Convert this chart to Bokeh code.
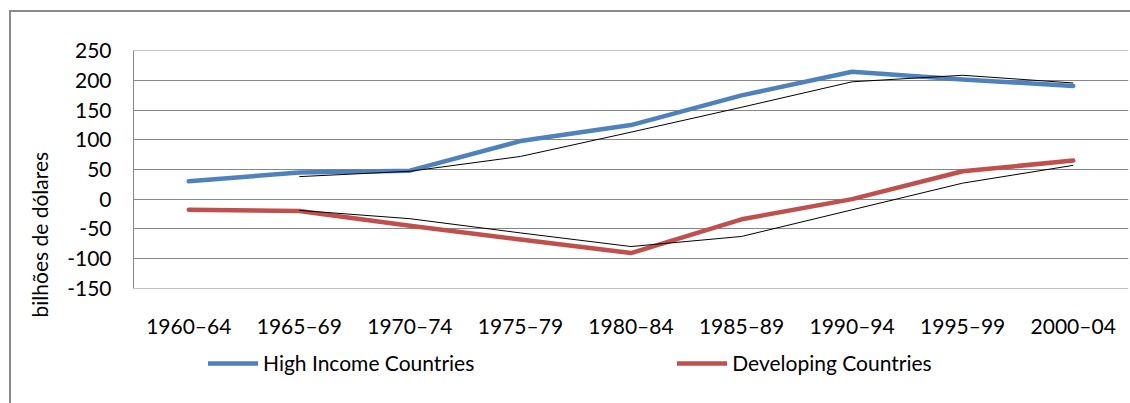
from bokeh.plotting import figure
from bokeh.layouts import column
from bokeh.models import (Range1d, FactorRange, FixedTicker, Legend, LegendItem, Title,
                          PrintfTickFormatter)
from bokeh.embed import file_html
from bokeh.resources import INLINE

periods = ["1960–64", "1965–69", "1970–74", "1975–79", "1980–84",
           "1985–89", "1990–94", "1995–99", "2000–04"]
high_income = [30, 45, 48, 98, 125, 175, 215, 202, 191]
high_income_trend = [float("nan"), 38, 47, 72, 113, 155, 198, 209, 196]
developing = [-18, -20, -45, -68, -91, -34, 0, 47, 65]
developing_trend = [float("nan"), -19, -33, -57, -80, -63, -18, 27, 57]
y_ticks = [-150, -100, -50, 0, 50, 100, 150, 200, 250]
series_names = ["High Income Countries", "Developing Countries"]

FONT = "Lato"
FS = "21px"
GRID = "#878787"
BLUE = "#4F81BD"
RED = "#C0504D"

p = figure(x_range=FactorRange(*periods, range_padding=0),
           y_range=Range1d(-150.8, 250.8),
           width=1119, height=328, output_backend="svg", toolbar_location=None,
           min_border_left=119, min_border_right=2, min_border_top=38, min_border_bottom=52)
p.outline_line_color = None
p.background_fill_color = "white"
p.border_fill_color = "white"

p.xgrid.grid_line_color = None
p.ygrid.grid_line_color = GRID
p.ygrid.grid_line_width = 1
p.yaxis.ticker = FixedTicker(ticks=y_ticks)
p.yaxis.formatter = PrintfTickFormatter(format="%d")

p.yaxis.axis_line_color = GRID
p.yaxis.major_tick_line_color = None
p.yaxis.minor_tick_line_color = None
p.yaxis.major_tick_out = 0
p.yaxis.major_tick_in = 0
p.yaxis.major_label_standoff = 22
p.yaxis.major_label_text_font = FONT
p.yaxis.major_label_text_font_size = FS
p.yaxis.major_label_text_color = "black"

p.xaxis.axis_line_color = None
p.xaxis.major_tick_line_color = None
p.xaxis.major_tick_out = 0
p.xaxis.major_tick_in = 0
p.xaxis.major_label_standoff = 24
p.xaxis.major_label_text_font = FONT
p.xaxis.major_label_text_font_size = FS
p.xaxis.major_label_text_color = "black"

p.line(periods, high_income, line_color=BLUE, line_width=4.5,
       line_join="round", line_cap="round")
p.line(periods, developing, line_color=RED, line_width=4.5,
       line_join="round", line_cap="round")
p.line(periods, high_income_trend, line_color="black", line_width=1)
p.line(periods, developing_trend, line_color="black", line_width=1)

p.add_layout(Title(text="bilhões de dólares", align="left", offset=-29, standoff=26,
                   text_font=FONT, text_font_size=FS, text_font_style="normal",
                   text_color="black"), "left")

# legend strip underneath the chart (its frame is aligned with the chart's frame)
q = figure(x_range=Range1d(0, 1), y_range=Range1d(0, 1),
           width=1119, height=63, output_backend="svg", toolbar_location=None,
           x_axis_type=None, y_axis_type=None,
           min_border_left=0, min_border_right=0, min_border_top=0, min_border_bottom=0)
q.outline_line_color = None
q.background_fill_color = "white"
q.border_fill_color = "white"
q.grid.visible = False
nan = float("nan")
rb = q.line([nan, nan], [nan, nan], line_color=BLUE, line_width=4.5, line_cap="round")
rr = q.line([nan, nan], [nan, nan], line_color=RED, line_width=4.5, line_cap="round")
leg = Legend(items=[LegendItem(label=series_names[0], renderers=[rb]),
                    LegendItem(label=series_names[1], renderers=[rr])],
             location=(75, 28), orientation="horizontal",
             padding=0, margin=0, spacing=203, border_line_color=None,
             background_fill_alpha=0, glyph_width=50, glyph_height=20,
             label_standoff=5,
             label_text_font=FONT, label_text_font_size=FS, label_text_color="black")
q.add_layout(leg)

layout = column(p, q, spacing=0)
layout.styles = {"margin-left": "9px", "margin-top": "10px",
                 "border-left": "2px solid #8a8a8a", "border-top": "2px solid #8a8a8a"}

open("out.html", "w").write(file_html(layout, INLINE))
